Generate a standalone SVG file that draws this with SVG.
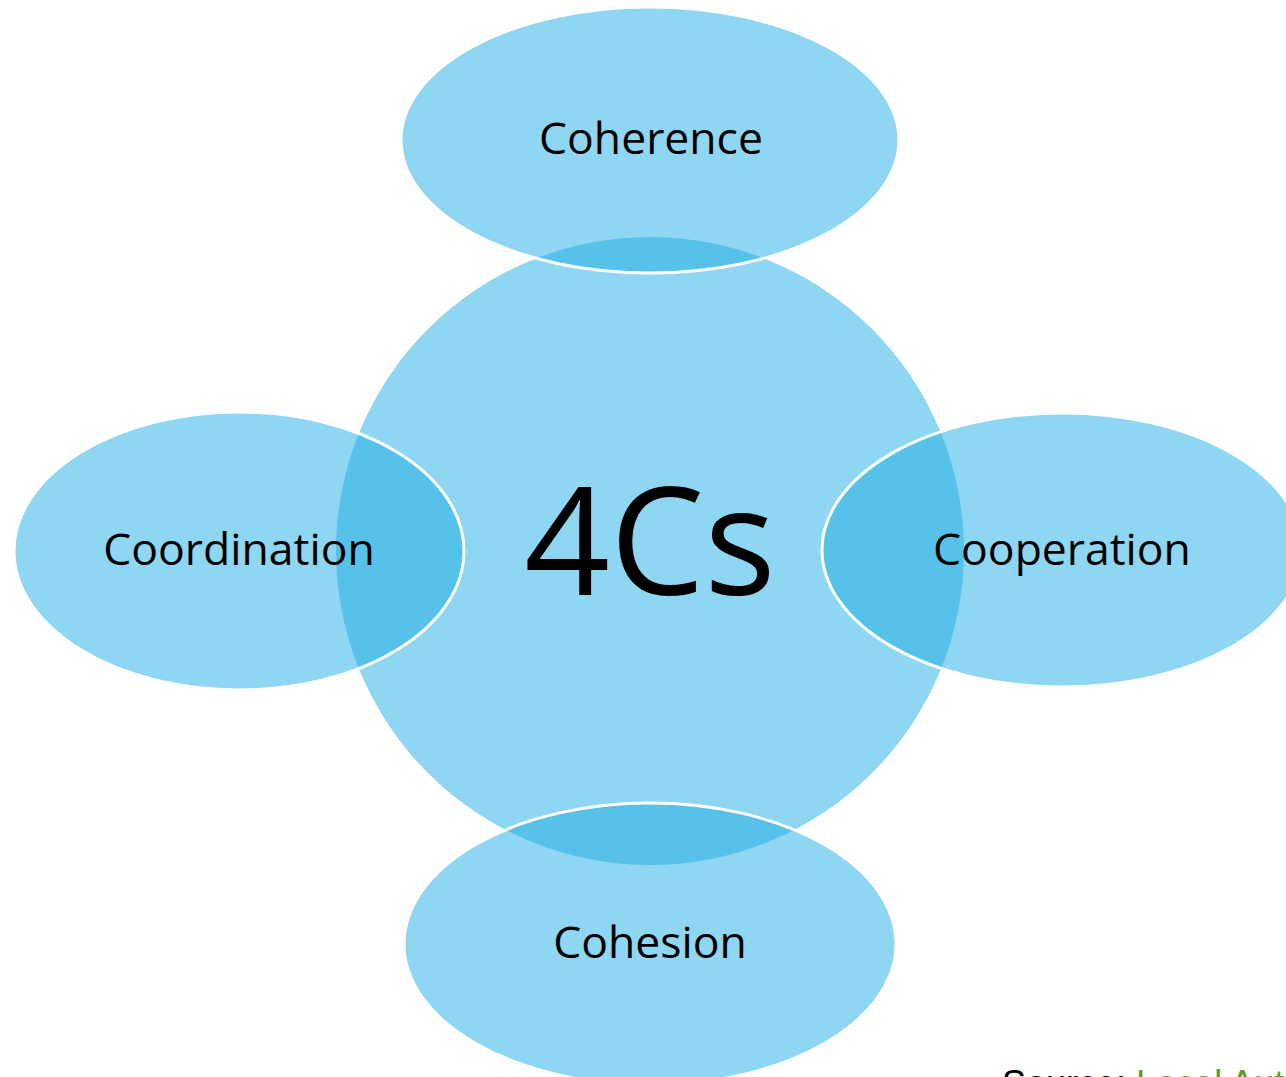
<svg xmlns="http://www.w3.org/2000/svg" width="1286" height="1077" viewBox="0 0 1286 1077">
<style>
.sat{fill:#1DADE3;fill-opacity:0.5;stroke:#FFFFFF;stroke-width:3}
.lbl{font-family:"Open Sans","Liberation Sans",sans-serif;font-size:44.5px;fill:#000;text-anchor:middle;dominant-baseline:central}
</style>
<rect width="1286" height="1077" fill="#FFFFFF"/>
<g id="center">
<circle cx="650" cy="551" r="314" fill="#8ED6F1"/>
<text x="650" y="537" font-family="Open Sans, Liberation Sans, sans-serif" font-size="150" text-anchor="middle" dominant-baseline="central" fill="#000">4Cs</text>
</g>
<g id="coherence">
<ellipse class="sat" cx="650" cy="140" rx="249" ry="133"/>
<text class="lbl" x="651" y="136">Coherence</text>
</g>
<g id="coordination">
<ellipse class="sat" cx="239" cy="551" rx="225" ry="139"/>
<text class="lbl" x="239" y="547">Coordination</text>
</g>
<g id="cooperation">
<ellipse class="sat" cx="1062" cy="550" rx="240" ry="137"/>
<text class="lbl" x="1062" y="547">Cooperation</text>
</g>
<g id="cohesion">
<ellipse class="sat" cx="650" cy="944" rx="246" ry="141"/>
<text class="lbl" x="650" y="940">Cohesion</text>
</g>
<g id="connectors"></g>
<text x="1002" y="1096" font-family="Liberation Sans, sans-serif" font-size="36" fill="#000">Source: <tspan fill="#5A9E1E">Local Authority</tspan></text>
</svg>
